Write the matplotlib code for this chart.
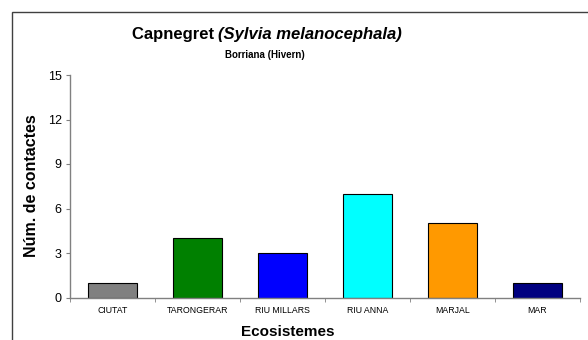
import matplotlib
matplotlib.use("Agg")
import matplotlib.pyplot as plt
import numpy as np
from matplotlib.patches import Rectangle

plt.rcParams["font.family"] = ["Liberation Sans", "DejaVu Sans"]

# Winter counts per ecosystem
ECOSYSTEMS = ["CIUTAT", "TARONGERAR", "RIU MILLARS", "RIU ANNA", "MARJAL", "MAR"]
CONTACTS = [1, 4, 3, 7, 5, 1]
BAR_COLORS = ["#808080", "#008000", "#0000FF", "#00FFFF", "#FF9900", "#000080"]
Y_TICKS = [0, 3, 6, 9, 12, 15]

W, H = 588, 340
fig = plt.figure(figsize=(W / 100, H / 100), dpi=100)

# outer chart frame (runs past the right and bottom edges)
fig.patches.append(Rectangle((12 / W, -0.1), 1.2, (H - 12) / H + 0.1,
                             transform=fig.transFigure, fill=False,
                             edgecolor="#404040", linewidth=1.0))

ax = fig.add_axes([70 / W, 1 - 297.5 / H, 510 / W, 222.5 / H])
x = np.arange(len(ECOSYSTEMS))
ax.bar(x, CONTACTS, width=0.58, color=BAR_COLORS, edgecolor="black", linewidth=0.8)

ax.set_xlim(-0.5, len(ECOSYSTEMS) - 0.5)
ax.set_ylim(0, 15)
ax.set_yticks(Y_TICKS)
ax.set_yticklabels([str(v) for v in Y_TICKS], fontsize=9)
ax.set_xticks(x)
ax.set_xticklabels(ECOSYSTEMS, fontsize=6.3)
ax.set_xticks(np.arange(len(ECOSYSTEMS) + 1) - 0.5, minor=True)
ax.tick_params(axis="x", which="major", length=0, pad=6)
ax.tick_params(axis="x", which="minor", length=3, color="#808080", direction="out")
ax.tick_params(axis="y", length=3, color="#808080", direction="out", pad=3)

for side in ("top", "right"):
    ax.spines[side].set_visible(False)
for side in ("left", "bottom"):
    ax.spines[side].set_color("#808080")
    ax.spines[side].set_linewidth(1.0)

fig.text(32 / W, 1 - 186 / H, "Núm. de contactes", rotation=90, fontsize=11.5,
         fontweight="bold", ha="center", va="center")
fig.text(288 / W, 1 - 332 / H, "Ecosistemes", fontsize=11, fontweight="bold",
         ha="center", va="center")

# title: common name in bold, scientific name in bold italic
cx, ty = 267 / W, 1 - 35 / H
renderer = fig.canvas.get_renderer()
t1 = fig.text(0, ty, "Capnegret ", fontsize=12, fontweight="bold", va="center")
t2 = fig.text(0, ty, "(Sylvia melanocephala)", fontsize=12, fontweight="bold",
              fontstyle="italic", va="center")
w1 = t1.get_window_extent(renderer).width / W
w2 = t2.get_window_extent(renderer).width / W
x0 = cx - (w1 + w2) / 2
t1.set_x(x0)
t2.set_x(x0 + w1)

fig.text(265 / W, 1 - 55 / H, "Borriana (Hivern)", fontsize=7, fontweight="bold",
         ha="center", va="center")

fig.savefig("out.png", dpi=100)
